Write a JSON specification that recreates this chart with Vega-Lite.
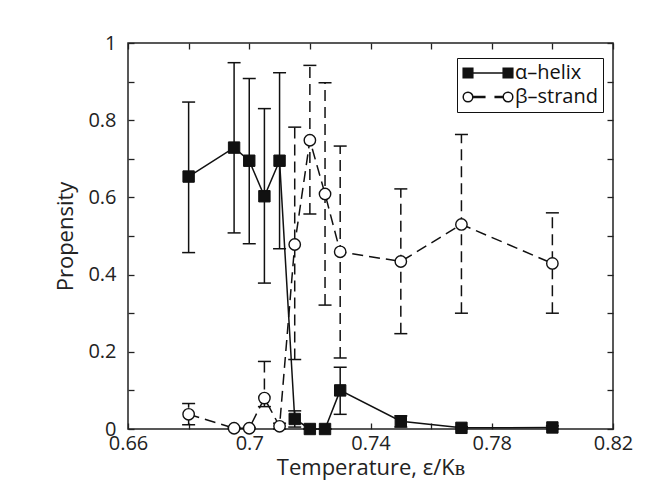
{
  "$schema": "https://vega.github.io/schema/vega-lite/v6.json",
  "width": 485,
  "height": 386,
  "autosize": {"type": "none"},
  "padding": {"left": 128, "top": 43, "right": 58, "bottom": 68},
  "background": "white",
  "data": {
    "values": [
      {"series": "α–helix", "t": 0.68, "p": 0.654, "lo": 0.457, "hi": 0.847},
      {"series": "α–helix", "t": 0.695, "p": 0.729, "lo": 0.508, "hi": 0.949},
      {"series": "α–helix", "t": 0.70, "p": 0.695, "lo": 0.480, "hi": 0.908},
      {"series": "α–helix", "t": 0.705, "p": 0.603, "lo": 0.378, "hi": 0.830},
      {"series": "α–helix", "t": 0.71, "p": 0.695, "lo": 0.467, "hi": 0.923},
      {"series": "α–helix", "t": 0.715, "p": 0.026, "lo": 0.005, "hi": 0.047},
      {"series": "α–helix", "t": 0.72, "p": 0.0, "lo": 0.0, "hi": 0.0},
      {"series": "α–helix", "t": 0.725, "p": 0.0, "lo": 0.0, "hi": 0.0},
      {"series": "α–helix", "t": 0.73, "p": 0.1, "lo": 0.038, "hi": 0.16},
      {"series": "α–helix", "t": 0.75, "p": 0.02, "lo": 0.005, "hi": 0.034},
      {"series": "α–helix", "t": 0.77, "p": 0.003, "lo": 0.0, "hi": 0.006},
      {"series": "α–helix", "t": 0.80, "p": 0.004, "lo": 0.0, "hi": 0.008},
      {"series": "β–strand", "t": 0.68, "p": 0.038, "lo": 0.011, "hi": 0.066},
      {"series": "β–strand", "t": 0.695, "p": 0.002, "lo": 0.0, "hi": 0.004},
      {"series": "β–strand", "t": 0.70, "p": 0.002, "lo": 0.0, "hi": 0.004},
      {"series": "β–strand", "t": 0.705, "p": 0.08, "lo": 0.058, "hi": 0.175},
      {"series": "β–strand", "t": 0.71, "p": 0.007, "lo": 0.0, "hi": 0.015},
      {"series": "β–strand", "t": 0.715, "p": 0.478, "lo": 0.18, "hi": 0.782},
      {"series": "β–strand", "t": 0.72, "p": 0.748, "lo": 0.557, "hi": 0.942},
      {"series": "β–strand", "t": 0.725, "p": 0.609, "lo": 0.321, "hi": 0.897},
      {"series": "β–strand", "t": 0.73, "p": 0.459, "lo": 0.184, "hi": 0.733},
      {"series": "β–strand", "t": 0.75, "p": 0.434, "lo": 0.247, "hi": 0.622},
      {"series": "β–strand", "t": 0.77, "p": 0.530, "lo": 0.300, "hi": 0.763},
      {"series": "β–strand", "t": 0.80, "p": 0.429, "lo": 0.300, "hi": 0.560}
    ]
  },
  "resolve": {"axis": {"x": "independent", "y": "independent"}},
  "layer": [
    {
      "transform": [{"filter": "datum.series == 'α–helix'"}],
      "mark": {"type": "rule", "color": "#111", "strokeWidth": 1.5},
      "encoding": {
        "x": {"field": "t", "type": "quantitative", "scale": {"domain": [0.66, 0.82], "nice": false, "zero": false},
          "axis": {"orient": "bottom", "values": [0.66, 0.68, 0.7, 0.72, 0.74, 0.76, 0.78, 0.8, 0.82], "format": ".2~f",
            "labelExpr": "round(datum.value*100) % 4 == 0 ? '' : datum.label", "labelPadding": 10, "labelFlush": false,
            "title": "Temperature, ε/Kʙ", "titlePadding": 4}},
        "y": {"field": "lo", "type": "quantitative", "scale": {"domain": [0, 1], "nice": false},
          "axis": {"orient": "left", "values": [0, 0.1, 0.2, 0.3, 0.4, 0.5, 0.6, 0.7, 0.8, 0.9, 1], "format": ".1~f",
            "labelExpr": "round(datum.value*10) % 2 == 1 ? '' : datum.label", "labelPadding": 18,
            "title": "Propensity", "titlePadding": 10}},
        "y2": {"field": "hi"}
      }
    },
    {
      "transform": [{"filter": "datum.series == 'β–strand'"}],
      "mark": {"type": "rule", "color": "#111", "strokeWidth": 1.5, "strokeDash": [11, 6]},
      "encoding": {
        "x": {"field": "t", "type": "quantitative",
          "axis": {"orient": "top", "values": [0.66, 0.68, 0.7, 0.72, 0.74, 0.76, 0.78, 0.8, 0.82], "labels": false, "title": null}},
        "y": {"field": "lo", "type": "quantitative",
          "axis": {"orient": "right", "values": [0, 0.1, 0.2, 0.3, 0.4, 0.5, 0.6, 0.7, 0.8, 0.9, 1], "labels": false, "title": null}},
        "y2": {"field": "hi"}
      }
    },
    {
      "mark": {"type": "tick", "orient": "horizontal", "color": "#111", "thickness": 1.5, "size": 13, "opacity": 1},
      "encoding": {
        "x": {"field": "t", "type": "quantitative", "axis": null},
        "y": {"field": "hi", "type": "quantitative", "axis": null}
      }
    },
    {
      "mark": {"type": "tick", "orient": "horizontal", "color": "#111", "thickness": 1.5, "size": 13, "opacity": 1},
      "encoding": {
        "x": {"field": "t", "type": "quantitative", "axis": null},
        "y": {"field": "lo", "type": "quantitative", "axis": null}
      }
    },
    {
      "transform": [{"filter": "datum.series == 'α–helix'"}],
      "mark": {"type": "line", "color": "#111", "strokeWidth": 1.5},
      "encoding": {
        "x": {"field": "t", "type": "quantitative", "axis": null},
        "y": {"field": "p", "type": "quantitative", "axis": null}
      }
    },
    {
      "transform": [{"filter": "datum.series == 'β–strand'"}],
      "mark": {"type": "line", "color": "#111", "strokeWidth": 1.5, "strokeDash": [11, 6]},
      "encoding": {
        "x": {"field": "t", "type": "quantitative", "axis": null},
        "y": {"field": "p", "type": "quantitative", "axis": null}
      }
    },
    {
      "transform": [{"filter": "datum.series == 'α–helix'"}],
      "mark": {"type": "point", "shape": "square", "filled": true, "fill": "#111", "stroke": "#111", "strokeWidth": 1, "size": 130, "opacity": 1},
      "encoding": {
        "x": {"field": "t", "type": "quantitative", "axis": null},
        "y": {"field": "p", "type": "quantitative", "axis": null}
      }
    },
    {
      "transform": [{"filter": "datum.series == 'β–strand'"}],
      "mark": {"type": "point", "shape": "circle", "filled": true, "fill": "white", "stroke": "#111", "strokeWidth": 1.4, "size": 130, "opacity": 1},
      "encoding": {
        "x": {"field": "t", "type": "quantitative", "axis": null},
        "y": {"field": "p", "type": "quantitative", "axis": null}
      }
    },
    {
      "transform": [{"filter": "false"}],
      "mark": {"type": "point", "filled": true, "opacity": 1},
      "encoding": {
        "x": {"field": "t", "type": "quantitative", "axis": null},
        "y": {"field": "p", "type": "quantitative", "axis": null},
        "shape": {"field": "series", "type": "nominal",
          "scale": {"domain": ["α–helix", "β–strand"], "range": ["M-3.1,-0.6L-1.9,-0.6L-1.9,0.6L-3.1,0.6Z M1.9,-0.6L3.1,-0.6L3.1,0.6L1.9,0.6Z M-1.9,0L1.9,0", "M-1.9,-0.05L-0.4,-0.05L-0.4,0.05L-1.9,0.05Z M0.9,-0.05L1.9,-0.05L1.9,0.05L0.9,0.05Z M-1.9,0A0.6,0.6,0,1,1,-3.1,0A0.6,0.6,0,1,1,-1.9,0Z M3.1,0A0.6,0.6,0,1,1,1.9,0A0.6,0.6,0,1,1,3.1,0Z"]},
          "legend": {"title": null, "orient": "none", "legendX": 329, "legendY": 15, "symbolSize": 256, "symbolStrokeWidth": 1.5, "symbolOffset": 16, "labelOffset": 17, "labelFontSize": 20, "labelFont": "Open Sans", "labelColor": "#111", "padding": 5, "rowPadding": 4, "strokeColor": "#111", "fillColor": "white"}},
        "fill": {"field": "series", "type": "nominal",
          "scale": {"domain": ["α–helix", "β–strand"], "range": ["#111", "white"]},
          "legend": {"title": null, "orient": "none", "legendX": 329, "legendY": 15, "symbolSize": 256, "symbolStrokeWidth": 1.5, "symbolOffset": 16, "labelOffset": 17, "labelFontSize": 20, "labelFont": "Open Sans", "labelColor": "#111", "padding": 5, "rowPadding": 4, "strokeColor": "#111", "fillColor": "white"}},
        "stroke": {"field": "series", "type": "nominal",
          "scale": {"domain": ["α–helix", "β–strand"], "range": ["#111", "#111"]},
          "legend": {"title": null, "orient": "none", "legendX": 329, "legendY": 15, "symbolSize": 256, "symbolStrokeWidth": 1.5, "symbolOffset": 16, "labelOffset": 17, "labelFontSize": 20, "labelFont": "Open Sans", "labelColor": "#111", "padding": 5, "rowPadding": 4, "strokeColor": "#111", "fillColor": "white"}}
      }
    }
  ],
  "config": {
    "view": {"stroke": "#222", "strokeWidth": 1.5, "fill": "transparent"},
    "axis": {"grid": false, "domain": false, "labelOverlap": false,
      "ticks": true, "tickSize": -6, "tickColor": "#222", "tickWidth": 1.3, "tickOpacity": 1, "zindex": 1,
      "labelFont": "Open Sans", "labelFontSize": 20, "labelColor": "#222",
      "titleFont": "Open Sans", "titleFontSize": 22, "titleColor": "#222", "titleFontWeight": "normal"}
  }
}
